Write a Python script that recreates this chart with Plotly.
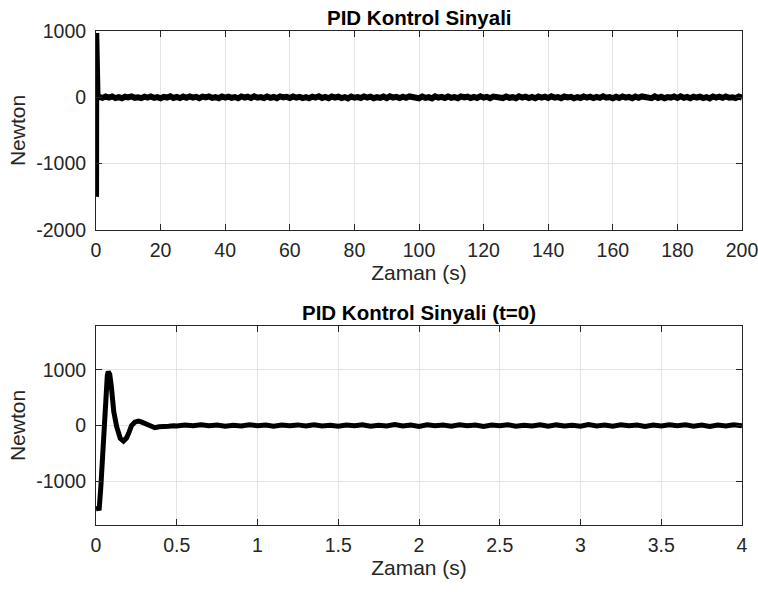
import plotly.graph_objects as go
from plotly.subplots import make_subplots

# ---- data ----
# start-up transient (shared by both panels)
transient_t = [0.0, 0.01, 0.02, 0.03, 0.04, 0.05, 0.06, 0.07, 0.076, 0.085, 0.095, 0.11,
               0.128, 0.15, 0.17, 0.19, 0.205, 0.22, 0.24, 0.262, 0.28, 0.31, 0.34, 0.365,
               0.39, 0.42, 0.45, 0.48]
transient_v = [-1500, -1500, -1490, -1100, -500, 100, 600, 900, 970, 920, 700, 250,
               -20, -230, -280, -220, -120, 0, 60, 80, 65, 20, -25, -40,
               -22, -8, -15, -5]

# steady state, top panel: one sample per second, t = 1 ... 200
top_t = list(range(1, 201))
top_v = [
    6, -9, 12, -4, 14, -11, 4, -13, 9, -2, 13, -7, 1, -12, 10, -5, 12, -9, 3, -14,
    8, -3, 15, -10, 5, -12, 11, -6, 13, -4, 7, -14, 10, -1, 14, -8, 2, -13, 12, -5,
    11, -7, 4, -14, 13, -3, 9, -10, 15, -6, 3, -11, 12, -8, 5, -13, 14, -2, 7, -9,
    13, -5, 8, -12, 2, -14, 10, -4, 15, -9, 6, -13, 12, -3, 9, -11, 4, -15, 13, -6,
    4, -10, 14, -5, 9, -13, 2, -8, 12, -11, 15, -3, 7, -12, 10, -6, 13, -1, 5, -14,
    11, -8, 3, -15, 14, -4, 7, -10, 12, -7, 3, -13, 14, -2, 9, -12, 6, -9, 15, -5,
    8, -14, 11, -3, 4, -11, 13, -7, 2, -13, 15, -5, 9, -10, 6, -14, 12, -3, 10, -9,
    14, -6, 5, -13, 12, -2, 8, -15, 4, -10, 13, -4, 10, -12, 7, -8, 15, -6, 3, -13,
    9, -11, 14, -4, 6, -14, 11, -7, 13, -2, 5, -12, 15, -9, 8, -13, 3, -5, 12, -10,
    15, -7, 6, -14, 11, -3, 9, -11, 4, -15, 13, -5, 10, -8, 14, -6, 2, -12, 12, -4,
]

# steady state, bottom panel: t = 0.5 ... 4.0 every 0.05 s
bot_t = [round(0.5 + 0.05 * i, 2) for i in range(71)]
bot_v = [
    -10, 8, -6, 12, -4, 9, -12, 6, -8, 14, -5, 10, -13, 7, -3, 11, -9, 15, -7, 5,
    -14, 9, -6, 13, -11, 4, -8, 16, -10, 7, -15, 12, -5, 9, -12, 14, -6, 10, -16, 8,
    -4, 13, -11, 6, -9, 15, -13, 11, -7, 5, -14, 16, -8, 9, -12, 13, -5, 10, -15, 7,
    -9, 14, -6, 12, -11, 8, -16, 10, -7, 15, -4,
]

xticks_top = [0, 20, 40, 60, 80, 100, 120, 140, 160, 180, 200]
yticks_top = [-2000, -1000, 0, 1000]
xticks_bot = [0, 0.5, 1, 1.5, 2, 2.5, 3, 3.5, 4]
yticks_bot = [-1000, 0, 1000]

title_top = "PID Kontrol Sinyali"
title_bot = "PID Kontrol Sinyali (t=0)"
xlabel = "Zaman (s)"
ylabel = "Newton"

# ---- figure ----
fig = make_subplots(rows=2, cols=1)

fig.add_trace(go.Scatter(x=transient_t + top_t, y=transient_v + top_v, mode="lines",
                         line=dict(color="black", width=6), showlegend=False), row=1, col=1)
fig.add_trace(go.Scatter(x=transient_t + bot_t, y=transient_v + bot_v, mode="lines",
                         line=dict(color="black", width=5), showlegend=False), row=2, col=1)

FONT = "Liberation Sans, Arial, sans-serif"
TXT = "#262626"
TICK = 19.5
LAB = 21
axis_common = dict(showline=True, linecolor=TXT, linewidth=1, mirror="allticks",
                   ticks="inside", ticklen=6, tickcolor=TXT, showgrid=True,
                   gridcolor="#e3e3e3", gridwidth=1, zeroline=False, automargin=False,
                   ticklabeloverflow="allow",
                   tickfont=dict(family=FONT, size=TICK, color=TXT))

fig.update_xaxes(**axis_common)
fig.update_yaxes(**axis_common)

fig.update_layout(
    width=758, height=592,
    margin=dict(l=96, r=16, t=31, b=67),
    paper_bgcolor="white", plot_bgcolor="white",
    font=dict(family=FONT, color=TXT),
    xaxis=dict(domain=[0, 1], range=[0, 200], tickmode="array", tickvals=xticks_top,
               ticktext=[str(v) for v in xticks_top], ticklabelstandoff=3,
               title=dict(text=xlabel, font=dict(size=LAB, color=TXT), standoff=2)),
    yaxis=dict(domain=[0.5972, 1], range=[-2000, 1000], tickmode="array", tickvals=yticks_top,
               ticktext=[str(v) for v in yticks_top], ticklabelstandoff=5,
               title=dict(text=ylabel, font=dict(size=LAB, color=TXT), standoff=4)),
    xaxis2=dict(domain=[0, 1], range=[0, 4], tickmode="array", tickvals=xticks_bot,
                ticktext=[f"{v:g}" for v in xticks_bot], ticklabelstandoff=3,
                title=dict(text=xlabel, font=dict(size=LAB, color=TXT), standoff=2)),
    yaxis2=dict(domain=[0, 0.4028], range=[-1790, 1790], tickmode="array", tickvals=yticks_bot,
                ticktext=[str(v) for v in yticks_bot], ticklabelstandoff=5,
                title=dict(text=ylabel, font=dict(size=LAB, color=TXT), standoff=4)),
    annotations=[
        dict(text="<b>" + title_top + "</b>", x=0.5, y=1, xref="paper", yref="paper",
             xanchor="center", yanchor="bottom", yshift=1, borderpad=0, showarrow=False,
             font=dict(family=FONT, size=20.5, color="black")),
        dict(text="<b>" + title_bot + "</b>", x=0.5, y=0.4028, xref="paper", yref="paper",
             xanchor="center", yanchor="bottom", yshift=1, borderpad=0, showarrow=False,
             font=dict(family=FONT, size=20.5, color="black")),
    ],
)

# remove the browser's default body margin so the 758x592 figure fills the window
fig.write_html("out.html", config={"displayModeBar": False},
               post_script="document.body.style.margin='0';document.body.style.overflow='hidden';")
